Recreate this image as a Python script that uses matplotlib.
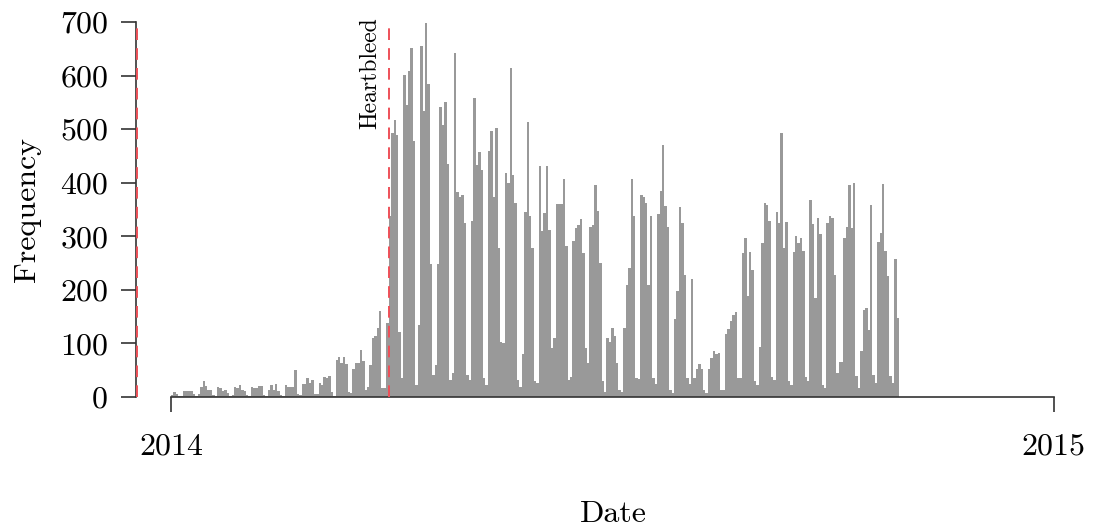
import numpy as np
import matplotlib
matplotlib.use("Agg")
import matplotlib.pyplot as plt

# ---------------- data (daily counts, starting 2014-01-01) ----------------
start_date = "2014-01-01"
jan = [4, 9, 6, 1, 1, 12, 12, 12, 11, 6, 2, 6, 18, 30, 21, 13, 14, 3, 1, 18,
       16, 11, 13, 7, 2, 3, 19, 16, 22, 13, 11]
feb = [3, 2, 19, 16, 16, 21, 21, 4, 2, 13, 22, 13, 25, 11, 4, 2, 23, 19, 18,
       18, 51, 5, 4, 25, 25, 35, 27, 31]
mar = [6, 5, 26, 22, 38, 35, 40, 9, 2, 69, 74, 63, 75, 61, 10, 7, 53, 64, 64,
       88, 67, 13, 19, 60, 110, 113, 128, 160, 17, 16, 139]
apr = [337, 493, 518, 490, 122, 35, 602, 545, 608, 651, 478, 22, 134, 655,
       533, 699, 585, 249, 41, 60, 248, 542, 508, 550, 435, 32, 44, 643, 383,
       374]
may = [378, 324, 41, 32, 329, 559, 434, 457, 424, 35, 22, 460, 497, 374, 502,
       279, 103, 100, 419, 399, 615, 414, 362, 32, 19, 80, 346, 513, 337, 278,
       29]
jun = [26, 432, 310, 343, 432, 312, 91, 110, 360, 360, 361, 407, 281, 32, 38,
       291, 315, 321, 332, 268, 92, 63, 318, 321, 396, 347, 251, 29, 9, 110]
jul = [103, 129, 114, 63, 13, 10, 129, 210, 240, 407, 337, 35, 34, 378, 374,
       363, 209, 337, 35, 24, 341, 385, 470, 357, 318, 13, 7, 146, 198, 355,
       324]
aug = [228, 36, 24, 220, 36, 52, 61, 53, 13, 7, 52, 72, 85, 80, 82, 14, 13,
       117, 127, 142, 154, 159, 35, 36, 268, 297, 189, 270, 237, 29, 22]
sep = [94, 287, 363, 358, 329, 38, 32, 346, 324, 493, 278, 327, 29, 22, 271,
       300, 287, 296, 273, 38, 29, 368, 323, 185, 335, 304, 22, 16, 325, 337]
oct_ = [334, 228, 44, 66, 66, 296, 318, 395, 316, 399, 40, 16, 85, 163, 167,
        125, 359, 41, 26, 289, 306, 397, 273, 225, 40, 26, 258, 148]

heartbleed_date = "2014-04-01"
left_marker_date = "2013-12-18"
xlim_dates = ["2013-12-17T12:00", "2015-01-16"]
xtick_dates = ["2014-01-01", "2015-01-01"]
xtick_labels = ["2014", "2015"]
yticks = [0, 100, 200, 300, 400, 500, 600, 700]

counts = jan + feb + mar + apr + may + jun + jul + aug + sep + oct_
dates = np.datetime64(start_date, "D") + np.arange(len(counts))

# ---------------- style ----------------
plt.rcParams["font.family"] = ["cmr10", "DejaVu Serif"]
plt.rcParams["mathtext.fontset"] = "cm"
plt.rcParams["axes.formatter.use_mathtext"] = True
plt.rcParams["axes.unicode_minus"] = False

FS = 23
bar_color = "#999999"
red = "#ee5058"
spine_color = "#333333"

fig = plt.figure(figsize=(10.94, 5.27), dpi=100)
ax = fig.add_axes([136 / 1094, 1 - 397 / 527, (1090 - 136) / 1094, (397 - 22) / 527])

ax.bar(dates, counts, width=1.0, align="edge", color=bar_color, linewidth=0)

dash = (0, (6.0, 4.2))
ax.axvline(np.datetime64(heartbleed_date), color=red, lw=1.4, ls=dash, zorder=3)
ax.axvline(np.datetime64(left_marker_date), color=red, lw=1.4, ls=dash, zorder=3)
ax.text(np.datetime64(heartbleed_date) - np.timedelta64(3, "D"), 708, "Heartbleed",
        rotation=90, ha="right", va="top", fontsize=17)

ax.set_xlim(np.datetime64(xlim_dates[0]), np.datetime64(xlim_dates[1]))
ax.set_ylim(0, 700)

ax.set_xticks([np.datetime64(d) for d in xtick_dates])
ax.set_xticklabels(xtick_labels)
ax.set_yticks(yticks)
ax.set_yticklabels([str(v) for v in yticks])

for s in ["top", "right"]:
    ax.spines[s].set_visible(False)
for s in ["left", "bottom"]:
    ax.spines[s].set_color(spine_color)
    ax.spines[s].set_linewidth(1.2)
ax.spines["left"].set_bounds(0, 700)
ax.spines["bottom"].set_bounds(np.datetime64(xtick_dates[0]), np.datetime64(xtick_dates[1]))

ax.tick_params(axis="both", direction="out", length=11, width=1.2, color=spine_color,
               labelsize=FS, labelcolor="black")
ax.tick_params(axis="y", pad=9)
ax.tick_params(axis="x", pad=15)

ax.set_xlabel("Date", fontsize=FS, labelpad=29)
ax.set_ylabel("Frequency", fontsize=FS)
ax.yaxis.set_label_coords(-0.1, 0.5)

fig.savefig("out.png", dpi=100)
